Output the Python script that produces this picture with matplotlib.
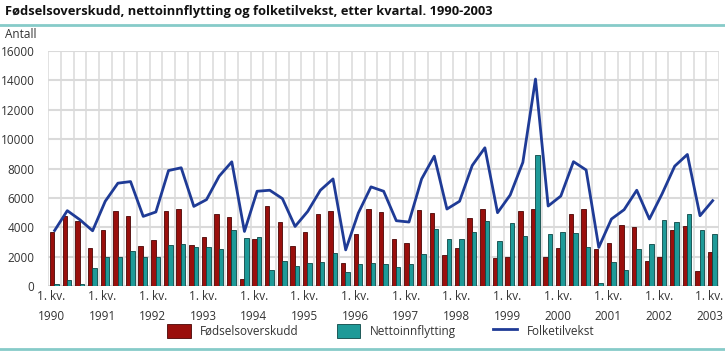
import numpy as np
import matplotlib.pyplot as plt
from matplotlib.lines import Line2D
from matplotlib.patches import Patch

plt.rcParams['font.family'] = ['Open Sans', 'DejaVu Sans']

# quarterly values, 1. kv. 1990 - 1. kv. 2003
fodselsoverskudd = [3700, 4740, 4420, 2575, 3830, 5105, 4790, 2735,
                    3120, 5130, 5265, 2800, 3330, 4920, 4700, 455,
                    3190, 5425, 4355, 2735, 3670, 4920, 5130, 1570,
                    3555, 5240, 5015, 3190, 2895, 5195, 4990, 2140,
                    2600, 4625, 5240, 1905, 2000, 5105, 5220, 1975,
                    2565, 4925, 5240, 2520, 2920, 4125, 4010, 1710,
                    2005, 3830, 4100, 1025, 2300]
nettoinnflytting = [110, 410, 110, 1210, 1960, 1960, 2390, 2000,
                    1980, 2780, 2850, 2640, 2640, 2530, 3830, 3280,
                    3330, 1095, 1710, 1370, 1570, 1640, 2255, 960,
                    1500, 1570, 1500, 1320, 1530, 2190, 3900, 3170,
                    3210, 3690, 4400, 3065, 4265, 3380, 8940, 3540,
                    3650, 3610, 2655, 180, 1620, 1095, 2550, 2850,
                    4465, 4330, 4920, 3785, 3530]
folketilvekst = [3780, 5130, 4510, 3760, 5770, 7000, 7110, 4740,
                 5040, 7860, 8050, 5420, 5880, 7475, 8455, 3715,
                 6450, 6520, 5950, 4055, 5080, 6520, 7290, 2460,
                 4970, 6750, 6450, 4445, 4355, 7290, 8840, 5240,
                 5770, 8205, 9410, 4990, 6195, 8420, 14090, 5445,
                 6125, 8465, 7900, 2630, 4560, 5195, 6520, 4560,
                 6270, 8160, 8955, 4785, 5810]
years = [str(y) for y in range(1990, 2004)]

red = '#9a0f0c'
teal = '#1e9a98'
blue = '#1f3b96'
grid = '#dadada'
txt = '#333333'

W, H = 725, 352
fig = plt.figure(figsize=(W / 100, H / 100), dpi=100)

def px(x0, y0, x1, y1):
    return [x0 / W, 1 - y1 / H, (x1 - x0) / W, (y1 - y0) / H]

ax = fig.add_axes(px(48.3, 51, 719, 286))
n = len(folketilvekst)
x = np.arange(n)
bw = 0.35
ax.bar(x - 0.2, fodselsoverskudd, bw, color=red, edgecolor='#4a0505', lw=0.6, zorder=3)
ax.bar(x + 0.15, nettoinnflytting, bw, color=teal, edgecolor='#0c4746', lw=0.6, zorder=3)
ax.plot(x, folketilvekst, color=blue, lw=2, zorder=4)

ax.set_xlim(-0.5, n - 0.5)
ax.set_ylim(0, 16000)
ax.set_yticks(np.arange(0, 16001, 2000))
ax.set_xticks(np.arange(-0.5, n, 1), minor=True)
ax.set_xticks(np.arange(0, n, 4) - 0.25)
ax.set_xticklabels([f'1. kv.\n{y}' for y in years], linespacing=1.7)
ax.grid(True, which='major', axis='y', color=grid, lw=1.5, zorder=0)
ax.grid(True, which='minor', axis='x', color=grid, lw=1.1, zorder=0)
ax.tick_params(which='both', length=0)
ax.tick_params(axis='y', labelsize=8.5, labelcolor=txt, pad=10)
ax.tick_params(axis='x', labelsize=8.5, labelcolor=txt, pad=3)
for s in ax.spines.values():
    s.set_visible(False)
ax.axhline(0, color='#bbbbbb', lw=1, zorder=2)

fig.text(5 / W, 1 - 12 / H, 'Fødselsoverskudd, nettoinnflytting og folketilvekst, etter kvartal. 1990-2003',
         fontsize=9.3, fontweight='bold', color='#111111', va='center', ha='left')
fig.add_artist(Line2D([0, 1], [1 - 25 / H] * 2, color='#86cbc9', lw=2))
fig.add_artist(Line2D([0, 1], [1 - 349 / H] * 2, color='#86cbc9', lw=2))
fig.text(5 / W, 1 - 35 / H, 'Antall', fontsize=8.5, color=txt, va='center', ha='left')

handles = [Patch(facecolor=red, edgecolor='#4a0505', lw=0.6),
           Patch(facecolor=teal, edgecolor='#0c4746', lw=0.6),
           Line2D([], [], color=blue, lw=2)]
labels = ['Fødselsoverskudd', 'Nettoinnflytting', 'Folketilvekst']
fig.legend(handles, labels, loc='center', bbox_to_anchor=(0.525, 1 - 331 / H), ncol=3,
           frameon=False, fontsize=8.5, handlelength=2.0, handleheight=1.5,
           columnspacing=3.2, handletextpad=0.8, labelcolor=txt)

fig.savefig('out.png', dpi=100)
